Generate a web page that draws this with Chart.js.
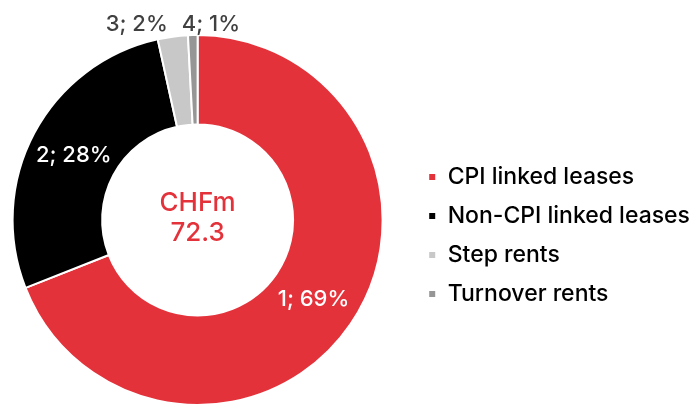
<!DOCTYPE html>
<html>
<head>
<meta charset="utf-8">
<script src="https://cdn.jsdelivr.net/npm/chart.js@4/dist/chart.umd.min.js"></script>
<style>
  html, body { margin: 0; padding: 0; background: #fff; overflow: hidden; }
  #wrap { position: absolute; left: -17px; top: 0; width: 717px; height: 406px; }
</style>
</head>
<body>
<div id="wrap"><canvas id="chart"></canvas></div>
<script>
// data
const categories = ['CPI linked leases', 'Non-CPI linked leases', 'Step rents', 'Turnover rents'];
const values = [49.9, 19.9, 1.9, 0.6];          // CHFm
const sliceLabels = ['1; 69%', '2; 28%', '3; 2%', '4; 1%'];
const totalLabel = ['CHFm', '72.3'];
const colors = ['#E4323B', '#000000', '#C8C8C8', '#969696'];

const FONT = 'Inter, "Liberation Sans", Arial, sans-serif';
const WEIGHT = 500;
const legendSize = 23;

// make the legend start where the reference has it
const mctx = document.createElement('canvas').getContext('2d');
mctx.font = WEIGHT + ' ' + legendSize + 'px ' + FONT;
const widest = Math.max(...categories.map(c => mctx.measureText(c).width));
const padRight = Math.max(0, 240 - widest);

// slice labels + centre total
const labelPlugin = {
  id: 'sliceLabels',
  afterDatasetsDraw(chart) {
    const ctx = chart.ctx;
    const arcs = chart.getDatasetMeta(0).data;
    ctx.save();
    ctx.font = WEIGHT + ' 22px ' + FONT;
    ctx.textBaseline = 'middle';
    arcs.forEach((arc, i) => {
      const p = arc.getProps(['x', 'y', 'startAngle', 'endAngle', 'outerRadius'], true);
      if (i < 2) {
        const pos = arc.tooltipPosition(true);
        ctx.fillStyle = '#fff';
        ctx.textAlign = 'center';
        ctx.fillText(sliceLabels[i], pos.x, pos.y + 1);
      } else {
        const mid = (p.startAngle + p.endAngle) / 2;
        const x = p.x + Math.cos(mid) * p.outerRadius;
        const y = p.y - p.outerRadius - 11;
        ctx.fillStyle = '#404040';
        if (i === 2) {
          ctx.textAlign = 'right';
          ctx.fillText(sliceLabels[i], x - 5, y);
        } else {
          ctx.textAlign = 'left';
          ctx.fillText(sliceLabels[i], x - 11, y);
        }
      }
    });
    // total in the hole
    const c = arcs[0];
    ctx.fillStyle = colors[0];
    ctx.textAlign = 'center';
    ctx.font = WEIGHT + ' 26px ' + FONT;
    ctx.fillText(totalLabel[0], c.x, c.y - 17);
    ctx.fillText(totalLabel[1], c.x, c.y + 13);
    ctx.restore();
  }
};

new Chart(document.getElementById('chart'), {
  type: 'doughnut',
  data: {
    labels: categories,
    datasets: [{
      data: values,
      backgroundColor: colors,
      borderColor: '#fff',
      borderWidth: 2
    }]
  },
  options: {
    responsive: true,
    maintainAspectRatio: false,
    animation: false,
    cutout: '51.6%',
    layout: { padding: { top: 34, bottom: 0, left: 0, right: padRight } },
    plugins: {
      tooltip: { enabled: false },
      legend: {
        position: 'right',
        align: 'center',
        title: { display: true, text: ' ', font: { size: 14, lineHeight: 1.2 }, padding: 7 },
        labels: {
          boxWidth: 8,
          boxHeight: 8,
          padding: 16,
          color: '#000',
          font: { family: FONT, size: legendSize, weight: WEIGHT }
        }
      }
    }
  },
  plugins: [labelPlugin]
});
</script>
</body>
</html>
